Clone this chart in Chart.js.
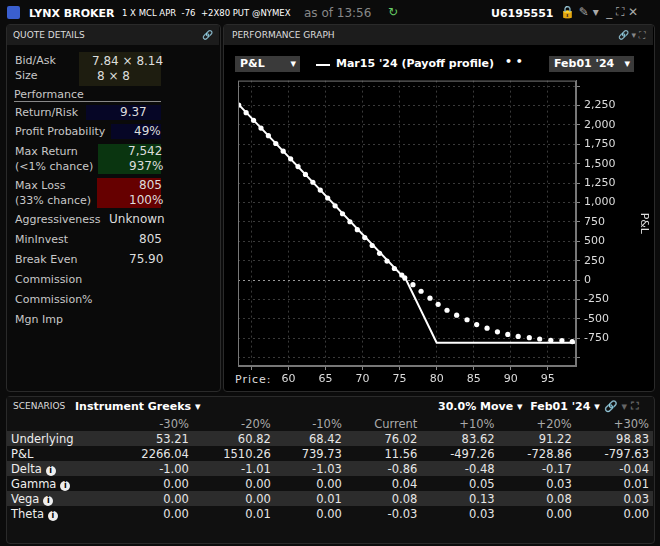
<!DOCTYPE html>
<html><head><meta charset="utf-8">
<script src="https://cdn.jsdelivr.net/npm/chart.js@4"></script>
<style>
body{margin:0;width:660px;height:546px;background:#0b0b0b;font-family:"DejaVu Sans",sans-serif;color:#ddd;overflow:hidden;position:relative;font-size:11px}
.a{position:absolute;white-space:nowrap}
.panel{position:absolute;background:#000;border:1px solid #2a2a2a;border-radius:4px}
.hdr{position:absolute;background:#1c1c1c;font-size:9px;color:#ddd}
.lbl{color:#c8c8c8}
table{border-collapse:collapse;font-size:11.5px}
td{padding:0 4px;height:15px;text-align:right;color:#e6e6e6}
td:first-child{text-align:left;color:#eee}
.i{display:inline-block;width:10px;height:10px;border-radius:5px;background:#eee;color:#000;font-size:8px;text-align:center;line-height:10px;font-weight:bold;margin-left:4px}
.dd{position:absolute;background:#3a3a3a;color:#fff;font-weight:bold;font-size:11px;height:16px;line-height:16px;padding-left:5px}
</style></head><body>
<div class="a" style="left:7px;top:6px;width:13px;height:13px;background:#3a5fcf;border-radius:2px"></div>
<div class="a" style="left:29px;top:7px;font-weight:bold;font-size:11px;color:#fff">LYNX BROKER</div>
<div class="a" style="left:122px;top:8px;font-size:8.5px;color:#fff">1 X MCL APR &nbsp;-76 &nbsp;+2X80 PUT @NYMEX</div>
<div class="a" style="left:304px;top:6px;font-size:12px;color:#888">as of 13:56</div>
<div class="a" style="left:388px;top:5px;font-size:12px;color:#6c6">↻</div>
<div class="a" style="left:491px;top:7px;font-weight:bold;font-size:11px;color:#fff">U6195551</div>
<div class="a" style="left:560px;top:5px;font-size:12px;color:#aaa">🔒 ✎ ▾ &nbsp;_ ⛶ ✕</div>

<div class="panel" style="left:6px;top:24px;width:213px;height:366px;background:#0a0a0a"></div>
<div class="hdr" style="left:7px;top:25px;width:212px;height:20px;line-height:20px;padding-left:6px;box-sizing:border-box">QUOTE DETAILS<span style="position:absolute;right:6px;color:#5c5">🔗</span></div>
<div class="a" style="left:79px;top:52px;width:82px;height:34px;background:#1e1d10"></div>
<div class="a lbl" style="left:15px;top:54px">Bid/Ask</div><div class="a" style="left:92px;top:54px;font-size:12px">7.84 × 8.14</div>
<div class="a lbl" style="left:15px;top:69px">Size</div><div class="a" style="left:97px;top:69px;font-size:12px">8 × 8</div>
<div class="a lbl" style="left:14px;top:88px">Performance</div>
<div class="a" style="left:14px;top:101px;width:147px;height:1px;background:#888"></div>
<div class="a" style="left:86px;top:105px;width:75px;height:15px;background:#060626"></div>
<div class="a lbl" style="left:15px;top:106px">Return/Risk</div><div class="a" style="left:120px;top:105px;font-size:12px">9.37</div>
<div class="a" style="left:111px;top:124px;width:50px;height:15px;background:#060626"></div>
<div class="a lbl" style="left:15px;top:125px">Profit Probability</div><div class="a" style="left:134px;top:124px;font-size:12px">49%</div>
<div class="a" style="left:98px;top:144px;width:63px;height:30px;background:#0a3510"></div>
<div class="a lbl" style="left:15px;top:145px">Max Return</div><div class="a" style="left:128px;top:144px;font-size:12px">7,542</div>
<div class="a lbl" style="left:15px;top:160px">(&lt;1% chance)</div><div class="a" style="left:129px;top:159px;font-size:12px">937%</div>
<div class="a" style="left:97px;top:178px;width:64px;height:30px;background:#660000"></div>
<div class="a lbl" style="left:15px;top:179px">Max Loss</div><div class="a" style="left:139px;top:178px;font-size:12px">805</div>
<div class="a lbl" style="left:15px;top:194px">(33% chance)</div><div class="a" style="left:129px;top:193px;font-size:12px">100%</div>
<div class="a lbl" style="left:15px;top:213px">Aggressiveness</div><div class="a" style="left:109px;top:212px;font-size:12px">Unknown</div>
<div class="a lbl" style="left:15px;top:233px">MinInvest</div><div class="a" style="left:139px;top:232px;font-size:12px">805</div>
<div class="a lbl" style="left:15px;top:253px">Break Even</div><div class="a" style="left:129px;top:252px;font-size:12px">75.90</div>
<div class="a lbl" style="left:15px;top:273px">Commission</div>
<div class="a lbl" style="left:15px;top:293px">Commission%</div>
<div class="a lbl" style="left:15px;top:313px">Mgn Imp</div>

<div class="panel" style="left:223px;top:24px;width:430px;height:366px"></div>
<div class="hdr" style="left:224px;top:25px;width:429px;height:20px;line-height:20px;padding-left:8px;box-sizing:border-box">PERFORMANCE GRAPH<span style="position:absolute;right:8px;color:#5c5">🔗 <span style="color:#888">▾ ⛶</span></span></div>
<div class="dd" style="left:235px;top:56px;width:60px">P&amp;L<span style="position:absolute;right:4px">▾</span></div>
<div class="a" style="left:316px;top:64px;width:14px;height:2px;background:#fff"></div>
<div class="a" style="left:336px;top:57px;font-weight:bold;color:#fff">Mar15 '24 (Payoff profile)</div>
<div class="a" style="left:505px;top:55px;font-weight:bold;color:#fff">• •</div>
<div class="dd" style="left:549px;top:56px;width:80px">Feb01 '24<span style="position:absolute;right:4px">▾</span></div>
<div class="a" style="left:235px;top:373px;color:#ddd;letter-spacing:1px">Price:</div>
<div class="a" style="left:234px;top:70px;width:416px;height:322px"><canvas id="c"></canvas></div>

<div class="panel" style="left:6px;top:396px;width:647px;height:146px;background:#101010"></div>
<div class="hdr" style="left:7px;top:397px;width:646px;height:19px;line-height:19px;padding-left:6px;box-sizing:border-box;background:#101010">SCENARIOS</div>
<div class="a" style="left:75px;top:400px;font-weight:bold;color:#fff">Instrument Greeks ▾</div>
<div class="a" style="left:438px;top:400px;font-weight:bold;color:#fff">30.0% Move ▾ &nbsp;Feb01 '24 ▾ <span style="color:#5c5;font-weight:normal">🔗</span> <span style="color:#666">▾ ⛶</span></div>
<div class="a" style="left:7px;top:416px;width:646px"><table id="t" style="width:646px"></table></div>

<script>
const expiryPrice=[53.2,75.9,80,98.8];
const expiryPL=[2270,0,-805,-805];
const curPrice=[53.3,54.3,55.3,56.3,57.3,58.3,59.3,60.3,61.3,62.3,63.3,64.3,65.3,66.3,67.3,68.3,69.3,70.3,71.3,72.3,73.3,74.3,75.3,75.7,76.8,77.9,79.1,80.2,81.4,82.7,84.1,85.4,86.8,88.2,89.6,91.0,92.5,93.9,95.4,96.9,98.3];
const curPL=[2256,2157,2058,1959,1860,1760,1661,1562,1462,1362,1261,1160,1058,957,855,752,650,548,446,345,245,150,65,30,-59,-143,-232,-312,-388,-451,-510,-573,-619,-666,-699,-725,-741,-758,-775,-779,-792];
const cols=['','-30%','-20%','-10%','Current','+10%','+20%','+30%'];
const rowNames=['Underlying','P&L','Delta','Gamma','Vega','Theta'];
const rowVals=[
['53.21','60.82','68.42','76.02','83.62','91.22','98.83'],
['2266.04','1510.26','739.73','11.56','-497.26','-728.86','-797.63'],
['-1.00','-1.01','-1.03','-0.86','-0.48','-0.17','-0.04'],
['0.00','0.00','0.00','0.04','0.05','0.03','0.01'],
['0.00','0.00','0.01','0.08','0.13','0.08','0.03'],
['0.00','0.01','0.00','-0.03','0.03','0.00','0.00']];
const yTicks=[2250,2000,1750,1500,1250,1000,750,500,250,0,-250,-500,-750];

let h='<tr>'+cols.map(c=>'<td style="color:#aaa">'+c+'</td>').join('')+'</tr>';
rowNames.forEach((n,i)=>{h+='<tr style="background:'+(i%2==0?'#2c2c2c':'#101010')+'"><td>'+n.replace('&','&amp;')+(i>1?'<span class="i">i</span>':'')+'</td>'+rowVals[i].map(v=>'<td>'+v+'</td>').join('')+'</tr>';});
document.getElementById('t').innerHTML=h;

new Chart(document.getElementById('c'),{
 type:'scatter',
 data:{datasets:[
  {data:curPrice.map((x,i)=>({x,y:curPL[i]})),showLine:false,pointRadius:2.6,pointBackgroundColor:'#fff',pointBorderWidth:0},
  {data:expiryPrice.map((x,i)=>({x,y:expiryPL[i]})),showLine:true,borderColor:'#fff',borderWidth:2,pointRadius:0}
 ]},
 options:{animation:false,responsive:true,maintainAspectRatio:false,
  layout:{padding:{top:7,left:0,right:0,bottom:0}},
  plugins:{legend:{display:false},tooltip:{enabled:false}},
  scales:{
   x:{type:'linear',min:53.2,max:98.8,afterBuildTicks:s=>{s.ticks=[55,60,65,70,75,80,85,90,95].map(v=>({value:v}))},
    afterFit:s=>{s.height=26},
    ticks:{color:'#ddd',font:{family:'DejaVu Sans',size:11},maxRotation:0,callback:v=>v==55?'':v},
    grid:{color:'#3a3a3a',tickLength:4,tickColor:'#888'},border:{display:true,color:'#777',dash:[2,3]}},
   y:{position:'right',min:-1106,max:2570,
    afterBuildTicks:s=>{s.ticks=[2500,...yTicks,-1000].map(v=>({value:v}))},
    afterFit:s=>{s.width=74},
    ticks:{color:'#ddd',font:{family:'DejaVu Sans',size:11},padding:4,callback:v=>(v==2500||v==-1000)?'':v.toLocaleString('en-US')},
    title:{display:true,text:'P&L',color:'#ddd',font:{family:'DejaVu Sans',size:11},padding:0},
    grid:{color:c=>c.tick&&c.tick.value===0?'#999':'#3a3a3a',tickLength:4,tickColor:'#888'},border:{display:true,color:'#777',dash:[2,3]}}
  }},
 plugins:[{id:'frame',afterDraw(ch){const a=ch.chartArea,g=ch.ctx;g.save();g.setLineDash([]);g.strokeStyle='#777';g.lineWidth=1;g.strokeRect(a.left+0.5,a.top+0.5,a.width-1,a.height-1);g.restore();}}]
});
</script>
</body></html>
